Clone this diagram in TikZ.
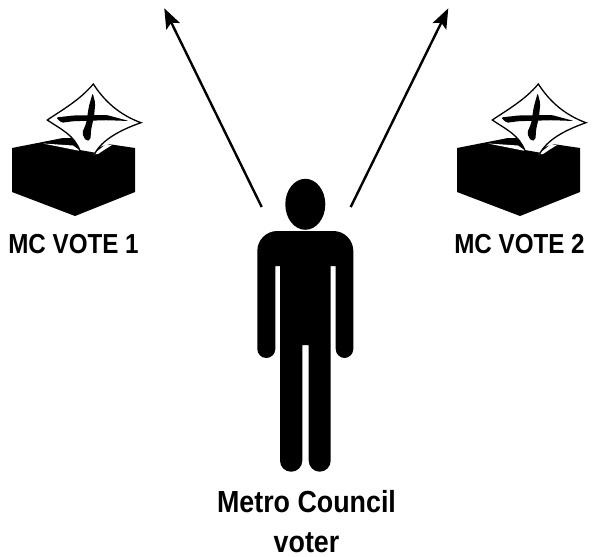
\documentclass[tikz,border=0pt]{standalone}
\usepackage{fontspec}
\setmainfont[FakeStretch=0.88]{Liberation Sans}
\usetikzlibrary{arrows.meta, positioning}
\tikzset{
    votelabel/.style={font=\fontsize{27.5}{30}\selectfont\bfseries, inner sep=0pt, anchor=base},
    voterlabel/.style={font=\fontsize{30.5}{40}\selectfont\bfseries, inner sep=0pt, align=center},
    arr/.style={-{Stealth[length=20pt, width=15pt, inset=4pt]}, line width=2.4pt, black},
    ballotbox/.pic={
        \fill[black] (12,148) -- (63,138) -- (72,138) -- (92,150) -- (108,144) -- (135,148) -- (135,192) -- (75,216) -- (12,192) -- cycle;
        \fill[white] (43,143.5) -- (73,145.5) -- (80,150.5) -- (78,150.5) -- cycle;
        \fill[white] (93,154) -- (100,149) -- (106,144) -- (112,145) -- (104,150) -- (98,154) -- cycle;
        \filldraw[fill=white, draw=black, line width=1.3pt] (93.3,84) .. controls (105,102) and (120,115) .. (141,122.7) .. controls (120,130) and (102,140) .. (95,153.3) -- (80,150.7) .. controls (74,135) and (62,130) .. (47.3,120) .. controls (62,110) and (80,100) .. (93.3,84) -- cycle;
        \fill[black, rounded corners=2pt] (92.7,93) -- (95.3,103.3) -- (94,116.7) -- (91,130) -- (90.5,140) -- (86,141) -- (82,133.3) -- (86.2,123.3) -- (88.8,106.7) -- cycle;
        \fill[black, rounded corners=1.5pt] (56,117.5) -- (73.3,115.5) -- (106.7,115) -- (129,121) -- (106.7,120.2) -- (73.3,121.2) -- (61.7,122.8) -- cycle;
    },
}
\begin{document}
\begin{tikzpicture}[x=1pt, y=-1pt]
\useasboundingbox (0,0) rectangle (595,557);
\pic (box1) at (0,0) {ballotbox};
\pic (box2) at (445,0) {ballotbox};
\node[votelabel] (vote1) at (73.5,253) {MC VOTE 1};
\node[votelabel] (vote2) at (519.5,253) {MC VOTE 2};

\fill[black] (305.3,204.3) ellipse [x radius=20, y radius=25.5];
\fill[black, rounded corners=9pt] (257.3,300) -- (257.3,358) -- (275.3,358) [sharp corners] -- (275.3,266) -- (280,266) [rounded corners=11pt] -- (280,471.7) -- (302.3,471.7) [sharp corners] -- (302.3,345) -- (308.7,345) [rounded corners=11pt] -- (308.7,471.7) -- (330.7,471.7) [sharp corners] -- (330.7,266) -- (335.7,266) [rounded corners=9pt] -- (335.7,358) -- (353.3,358) [rounded corners=20pt] -- (353.3,231) -- (257.3,231) -- cycle;
\node[voterlabel] (voter) at (306.5,522) {Metro Council\\voter};

\coordinate (leftfoot) at (261.7,207);
\coordinate (rightfoot) at (350.7,207);
\coordinate (lefttip) at (164.3,8.3);
\coordinate (righttip) at (448.3,8.3);
\draw[arr] (leftfoot) -- (lefttip);
\draw[arr] (rightfoot) -- (righttip);
\end{tikzpicture}
\end{document}
